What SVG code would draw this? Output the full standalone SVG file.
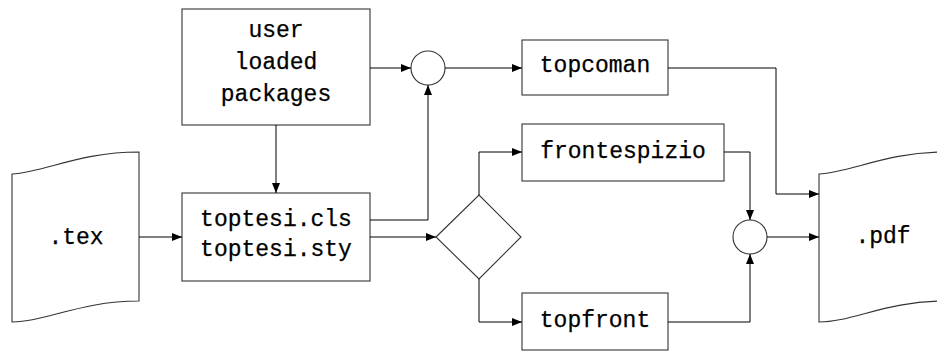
<svg xmlns="http://www.w3.org/2000/svg" width="937" height="351" viewBox="0 0 937 351">
<style>
.box{fill:#fff;stroke:#333;stroke-width:1.1}
.ln{fill:none;stroke:#000;stroke-width:1}
.t{font-family:"Liberation Mono","DejaVu Sans Mono",monospace;font-size:23px;fill:#000;text-anchor:middle;stroke:#000;stroke-width:0.25}
</style>
<defs>
<marker id="ah" viewBox="0 0 10 8" refX="10" refY="4" markerWidth="10" markerHeight="8" markerUnits="userSpaceOnUse" orient="auto">
<path d="M0,0 L10,4 L0,8 Z" fill="#000"/>
</marker>
</defs>
<rect width="937" height="351" fill="#fff"/>
<g id="tex">
<path class="box" d="M12,174 C45,172 80,152 139,152 L139,301 C80,301 45,322 12,322 Z"/>
<text class="t" x="76" y="244">.tex</text>
</g>
<g id="user">
<rect class="box" x="182" y="9" width="188" height="116"/>
<text class="t" x="276" y="37">user</text>
<text class="t" x="276" y="69">loaded</text>
<text class="t" x="276" y="101">packages</text>
</g>
<g id="toptesi">
<rect class="box" x="182" y="193" width="188" height="88"/>
<text class="t" x="276" y="226">toptesi.cls</text>
<text class="t" x="276" y="256">toptesi.sty</text>
</g>
<g id="join1">
<circle class="box" cx="428" cy="68" r="17"/>
</g>
<g id="decision">
<path class="box" d="M436,237 L479,195 L521,237 L479,279 Z"/>
</g>
<g id="topcoman">
<rect class="box" x="522" y="40" width="146" height="55"/>
<text class="t" x="595" y="72">topcoman</text>
</g>
<g id="frontespizio">
<rect class="box" x="522" y="124" width="202" height="57"/>
<text class="t" x="623" y="158">frontespizio</text>
</g>
<g id="topfront">
<rect class="box" x="522" y="293" width="146" height="57"/>
<text class="t" x="595" y="327">topfront</text>
</g>
<g id="join2">
<circle class="box" cx="750" cy="237" r="17"/>
</g>
<g id="pdf">
<path class="box" d="M819,174 C852,172 887,152 945,152 L945,301 C887,301 852,322 819,322 Z"/>
<text class="t" x="883" y="243">.pdf</text>
</g>
<g id="connectors" class="ln" marker-end="url(#ah)">
<path class="ln" marker-end="url(#ah)" d="M139,237 L182,237"/>
<path class="ln" marker-end="url(#ah)" d="M276,125 L276,193"/>
<path class="ln" marker-end="url(#ah)" d="M370,68 L411,68"/>
<path class="ln" marker-end="url(#ah)" d="M370,220 L428,220 L428,85"/>
<path class="ln" marker-end="url(#ah)" d="M370,237 L436,237"/>
<path class="ln" marker-end="url(#ah)" d="M445,68 L522,68"/>
<path class="ln" marker-end="url(#ah)" d="M479,195 L479,152 L522,152"/>
<path class="ln" marker-end="url(#ah)" d="M479,279 L479,322 L522,322"/>
<path class="ln" marker-end="url(#ah)" d="M668,68 L776,68 L776,194 L819,194"/>
<path class="ln" marker-end="url(#ah)" d="M724,152 L750,152 L750,220"/>
<path class="ln" marker-end="url(#ah)" d="M668,322 L750,322 L750,254"/>
<path class="ln" marker-end="url(#ah)" d="M767,237 L819,237"/>
</g>
</svg>
